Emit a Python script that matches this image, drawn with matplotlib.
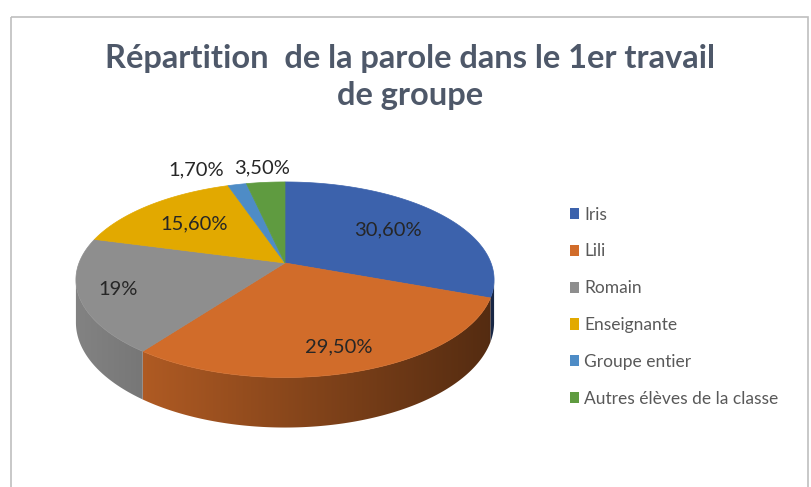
import numpy as np
import matplotlib.pyplot as plt
from matplotlib.patches import Polygon, Rectangle
import matplotlib.colors as mcolors

plt.rcParams['font.family'] = ['Lato', 'DejaVu Sans']

# données
categories = ['Iris', 'Lili', 'Romain', 'Enseignante', 'Groupe entier', 'Autres élèves de la classe']
values = [30.6, 29.5, 19.0, 15.6, 1.7, 3.5]
colors = ['#3C62AC', '#D16C2A', '#8E8E8E', '#E2A900', '#4E8CC6', '#5F9B40']
title = 'Répartition  de la parole dans le 1er travail\nde groupe'

# position des étiquettes (rayon relatif, décalage x en px)
label_r = [0.65, 0.80, 0.82, 0.65, 1.22, 1.22]
label_dx = [0, 0, 0, 0, -32, 0]

# géométrie du camembert 3D (pixels)
cx, cy = 285, 263
A, B, k, D = 206, 94.9, 0.171, 41.5


def proj(r, phi, h=0.0):
    u = r * np.cos(phi)
    v = r * np.sin(phi)
    w = 1 + k * v
    return cx + A * u / w, cy - B * v / w + h / w


def label_txt(v):
    if float(v).is_integer():
        return f"{int(v)}%"
    return f"{v:.2f}".replace('.', ',') + '%'


fig = plt.figure(figsize=(8.12, 4.87), dpi=100)
ax = fig.add_axes([0, 0, 1, 1])
ax.set_xlim(0, 812)
ax.set_ylim(487, 0)
ax.axis('off')

ax.add_patch(Rectangle((11, 17), 797, 480, fill=False, edgecolor='#BFBFBF', lw=1.2))

total = sum(values)
bounds = np.concatenate([[0], np.cumsum(values) / total * 360])  # degrés, sens horaire depuis le haut

# côtés (partie visible avant), dégradé de gauche (clair) à droite (sombre)
th_min = 90 + np.degrees(np.arcsin(k))
th_max = 270 - np.degrees(np.arcsin(k))
x_left = proj(1, np.radians(90 - th_max))[0]
x_right = proj(1, np.radians(90 - th_min))[0]
for i, col in enumerate(colors):
    a0 = max(bounds[i], th_min)
    a1 = min(bounds[i + 1], th_max)
    if a1 <= a0:
        continue
    phi = np.radians(90 - np.linspace(a0, a1, 200))
    tx, ty = proj(1, phi)
    bx, by = proj(1, phi, D)
    pts = list(zip(tx, ty)) + list(zip(bx[::-1], by[::-1]))
    side = Polygon(pts, closed=True, facecolor='none', edgecolor='none')
    ax.add_patch(side)
    x0, x1 = min(tx.min(), bx.min()) - 2, max(tx.max(), bx.max()) + 2
    y0, y1 = min(ty.min(), by.min()) - 2, max(ty.max(), by.max()) + 2
    xs = np.linspace(x0, x1, 200)
    t = np.clip((x_right - xs) / (x_right - x_left), 0, 1)
    f = 0.40 + 0.52 * t
    base = np.array(mcolors.to_rgb(col))
    img = np.clip(f[None, :, None] * base[None, None, :], 0, 1).repeat(2, axis=0)
    im = ax.imshow(img, extent=(x0, x1, y1, y0), aspect='auto', interpolation='bilinear', zorder=1)
    im.set_clip_path(side)

ax.set_xlim(0, 812)
ax.set_ylim(487, 0)

# dessus
for i, col in enumerate(colors):
    th = np.linspace(bounds[i], bounds[i + 1], max(3, int((bounds[i + 1] - bounds[i]) * 2)))
    phi = np.radians(90 - th)
    xs, ys = proj(1, phi)
    pts = [(cx, cy)] + list(zip(xs, ys))
    ax.add_patch(Polygon(pts, closed=True, facecolor=col, edgecolor=col, lw=0.5, zorder=2))

# étiquettes
for i, v in enumerate(values):
    mid = (bounds[i] + bounds[i + 1]) / 2
    x, y = proj(label_r[i], np.radians(90 - mid))
    ax.text(x + label_dx[i], y, label_txt(v), ha='center', va='center',
            fontsize=14.5, color='#262626', zorder=3)

fig.text(0.505, 1 - 77 / 487, title, ha='center', va='center', fontsize=23.5,
         fontweight='bold', color='#4E5869', linespacing=1.33)

handles = [Rectangle((0, 0), 1, 1, facecolor=c, edgecolor='none') for c in colors]
ax.legend(handles, categories, loc='upper left', bbox_to_anchor=(554 / 812, 1 - 191 / 487),
          frameon=False, handlelength=0.55, handleheight=0.6, handletextpad=0.3,
          labelspacing=1.2, fontsize=12.5, labelcolor='#595959')

fig.savefig('out.png', dpi=100)
